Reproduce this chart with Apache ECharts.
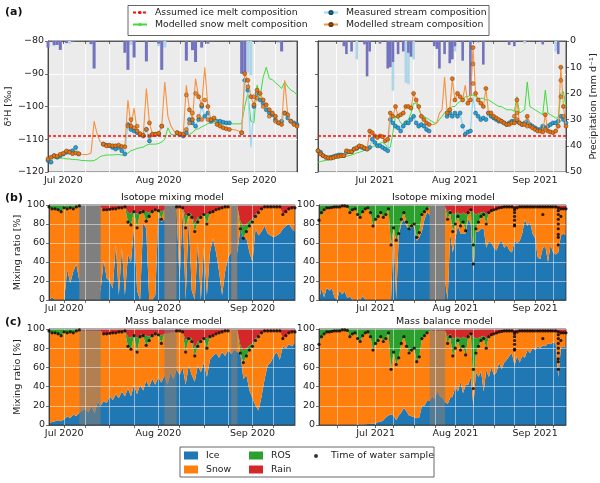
<!DOCTYPE html>
<html>
<head>
<meta charset="utf-8">
<script src="https://cdn.jsdelivr.net/npm/echarts@6/dist/echarts.min.js"></script>
<style>html,body{margin:0;padding:0;background:#fff}#chart{width:600px;height:483px}</style>
</head>
<body>
<div id="chart"></div>
<script>
// daily values, first entry is the start date
var start2020 = '2020-06-26', start2021 = '2021-06-09';
var monthTicks2020 = ['2020-07-01','2020-08-01','2020-09-01'];
var monthTicks2021 = ['2021-07-01','2021-08-01','2021-09-01'];
var monthLabels2020 = ['Jul 2020','Aug 2020','Sep 2020'];
var monthLabels2021 = ['Jul 2021','Aug 2021','Sep 2021'];
var minorTicks2020 = ['2020-07-08','2020-07-16','2020-07-24','2020-08-08','2020-08-16','2020-08-24','2020-09-08'];
var minorTicks2021 = ['2021-06-16','2021-06-24','2021-07-08','2021-07-16','2021-07-24','2021-08-08','2021-08-16','2021-08-24','2021-09-08'];
var assumedIceMelt = [-109, -109];

// panel a, 2020
var modelled2020 = [-116,-115.5,-115,-115.2,-114.6,-114.3,-113.6,-114,-114.4,-114.2,-114.4,
  -114.6,-114.7,-114.6,-114.2,-104.5,-108.5,-110.8,
  -111.5,-112,-111.8,-112,-112,-111.8,-112.2,-112.3,
  -98,-106,-100.5,-107.5,-108.3,-108.8,-94.5,-105,-108.5,-108.5,
  -108.2,-106,-92.5,-103,-106,-107.5,-108,-108.3,-108.5,-93.5,
  -101,-104,-91.5,-97,-99.5,-88,-100,-104,-103.5,-105.5,
  -106,-106.5,-106.8,-107,-107,-107.2,-107.5,-108,-90,-92,-97,
  -99.5,-95,-96,-98,-99.5,-101,-102,-103,-105,-105.5,-92,-102.5,-104.5,-105.5,-106];
var modelledNoSample2020 = [11,12,13,14,15,16,17,26,28,32,38,39,40,41,45,48,51,60,61,62,77];
var modelledExtra2020 = [[26,-106],[27,-104],[28,-106.5],[29,-106],[32,-107],[33,-109],[45,-107],[45,-96.5],[46,-105],[47,-102],[48,-96],[49,-103],
  [50,-104],[51,-98],[52,-104],[65,-94],[67,-97],[68,-97.5],[70,-100],[72,-103],[74,-104.5],[77,-102]];
var measured2020 = [-116.5,-117,-115,-115.5,-115,-114.5,-114,-113.8,-113.5,-112.5,-114.5,
  null,null,null,null,null,null,null,
  -111.5,-111.8,-112,-112.5,-113,-112.5,-113.5,-114.5,
  -105.5,-107,-107.5,-108,-108.5,-109,-107,-110.5,-108.5,-108.5,-108.3,-106,
  null,null,null,null,
  -108,-108.5,-109,-108,-104,-105,-106,-104,-100,-103,-102,-104.5,-104,-104.5,
  -104.5,-104.8,-105,-105,null,null,null,
  -108,-92,-95,-112.5,-100,-96,-98,-99,-101,-102,-102.5,-104,-105,-104.5,-102,-103.5,-104.5,-105,-105.5];
var measuredNoSample2020 = [66];
var snowMelt2020 = [-116,-116,-115.9,-115.9,-115.8,-115.8,-116,-116,-116.2,-116.2,-116.3,-116.5,-116.5,-116.6,-116.6,-116.5,-116,-115.3,
  -115,-114.8,-114.8,-114.8,-114.7,-114.7,-114.8,-114.8,
  -114.2,-113.5,-113.2,-112.8,-112.6,-112.4,-111.8,-111.5,-111.5,-111.5,-111.3,-110.8,
  -110,-106.5,-108.5,-108.7,-108.7,-108.8,-108.7,-108.7,-108.5,-108,
  -107,-106.8,-106.2,-105.8,-105.2,-105,-105,-105.2,-105.3,-105.3,-105.3,-105.3,
  -105.3,-105.3,-105.3,-105.2,-100,-96,-104.5,
  -105,-93.5,-97,-91,-88,-91.5,-91.8,-92.8,-93.5,-94.5,-92.5,-94,-95,-95.5,-96.5];
var precipDark2020 = [[0,2.5],[2,1.5],[3,1.5],[4,3.4],[6,.8],[8,.4],[14,1.2],[15,10.5],[25,4.5],[26,11],[28,6.3],[32,7.8],
  [36,1],[37,11],[45,7.5],[47,3.5],[48,8],[50,2.5],[52,1],[63,12.5],[64,12.5],[69,.4],[75,.5],[76,4],[80,.3]];
var precipLight2020 = [[2,2],[7,1],[27,1.5],[36,2],[38,2.5],[65,12],[66,13]];

// panel a, 2021
var modelled2021 = [-113.5,-114.5,-115,-115.5,-115.7,-115.8,-115.6,-115.3,-115.2,-115,
  -115,-113.5,-113.8,-113.8,-113,-112.6,-112,-112.2,-112.7,-113,
  -107.5,-108,-109,-109.5,-109,-109.2,-110.5,-110,-102,-103,
  -100,-103,-102.5,-102,-100,-100,-100.5,-96,-98,-100,
  -103,-104,-105,-105.5,-105.5,-105.5,-105,-102,-101,-91,
  -102,-101,-91.5,-98,-96,-97,-98,-93.5,-99,-98,
  -82,-96,-98,-99,-100,-94.5,-102,-102,-103,-103.5,
  -104,-104.5,-105,-105.5,-105.5,-105,-105,-98,-105,-105.5,
  -105.5,-103,-106,-106.5,-107,-107.5,-107.5,-107.8,-102.5,-107.5,
  -107.8,-108,-107.5,-106,-88,-100,-106];
var modelledNoSample2021 = [44,45,46,47,48,49,57];
var modelledExtra2021 = [[60,-87],[60,-93],[76,-103],[77,-102],[77,-104],[81,-106],[88,-107],[94,-92],[94,-97],[95,-103]];
var measured2021 = [-113.5,-114,-115,-115.5,-115.7,-115.5,-115.3,-115,-114.8,-114.8,
  -115,-114,-113.8,-113.8,-113,-112.8,-112.2,-112.5,-112.8,-113,
  -112.5,-110,-111,-112,-112,-112.5,-113,-113.5,-104,-105,
  -106,-106.5,-107.5,-106,-105,-105,-104,-103,-105,-106,
  -105.5,-106,-107,-107.5,null,null,null,null,null,null,
  -103,-102,-103,-102,-103,-102,-106,-108.5,-107.8,-107.5,
  -97,-102,-103,-104,-103.5,-104,-102,-103,-103.5,-104,
  -104.5,-104.5,-105,-105.5,-105,-104.5,-104.5,-104.5,-105,-105.5,
  -105,-104.5,-105.5,-106,-106.5,-107,-107,-106,-106.5,-106,
  -105.5,-105,-105,-104.5,-103,-104,-105];
var measuredNoSample2021 = [60];
var snowMelt2021 = [-117,-116.8,-116.6,-116.5,-116.3,-116.2,-116,-115.8,-115.7,-115.5,
  -115.4,-115.2,-115,-114.8,-114.5,-114.2,-114,-113.7,-113.4,-113,
  -112.7,-112.3,-112,-111.5,-111.2,-111,-111.5,-112.5,-112.5,-108,
  -103,-103.5,-105,-105.5,-104.5,-104,-102,-99,-99,-101,
  -102.5,-103,-103.5,-104,-104.5,-105,-105,-104,-103,-102,
  -101,-100.5,-100,-100,-99,-98.5,-98,-97,-97,-96.5,
  -96.5,-97,-97.5,-97.5,-97.5,-98,-98,-98.5,-99,-99.5,
  -100,-100,-100.5,-101,-101,-101,-101.5,-97,-102,-101.5,
  -101,-92.5,-100,-100.5,-101,-101.5,-102,-102.5,-95,-102,
  -102.5,-103,-103.5,-103.5,-96,-95.5,-100];
var precipDark2021 = [[10,2],[11,5],[13,4],[18,1.3],[19,13.5],[20,4],[24,1],[27,10.5],[28,10],[29,8],[31,5],[33,4],[35,4.5],[36,6],
  [45,2],[46,3],[47,10.5],[49,5],[51,8.5],[52,7],[53,2],[56,7.5],[59,21],[62,.5],[64,9],[74,1.5],[76,2],[87,1.3],[93,5]];
var precipLight2021 = [[15,7],[29,19],[34,16],[35,16.5],[37,7],[53,4],[80,1],[92,4]];

// panels b and c, 2020
var samples2020 = [98,96,96,95,93,97,96,97,96,98,
  99,null,null,null,null,null,null,null,95,95,
  95.5,96,96,97,97,98,82,79,93,76,
  92,93,83,88,93,95,94,85,null,null,
  null,null,98,98,97,76,90,87,72,82,
  87,90,80,92,93,95,96,97,98,98,
  null,null,null,75,65,72,78,82,88,92,
  96,98,98,98,98,98,98,90,93,96,97,97];
var ros2020 = [2,4,4,5,7,3,4,3,4,2,
  1,0,0,0,0,0,0,0,0,0,
  0,0,0,0,0,0,10,12,2,14,
  2,1,10,4,1,1,1,8,0,0,
  0,0,0,0,0,12,2,3,8,5,
  1,1,10,1,0,0,0,0,0,0,
  0,0,0,8,12,8,5,3,2,1,
  0,0,0,0,0,0,0,0,0,0,0,0];
var rain2020 = [0,0,0,0,0,0,0,0,0,0,
  0,2,2,2,2,2,2,2,5,5,
  4.5,4,4,3,3,2,8,9,5,10,
  6,6,7,8,6,4,5,7,5,5,
  4,4,2,2,3,12,8,10,20,13,
  12,9,10,7,7,5,4,3,2,2,
  1,1,1,17,23,20,17,15,10,7,
  4,2,2,2,2,2,2,10,7,4,3,3];
var iceIsotope2020 = [0,3,0,0,0,0,32,18,30,38,
  20,18,15,10,10,10,10,10,42,23,
  20,12,58,5,55,5,48,40,78,10,
  0,82,75,0,0,5,90,82,85,85,
  50,80,95,20,95,0,88,10,0,60,
  0,55,5,50,65,50,30,5,30,45,
  50,50,50,75,65,65,50,40,75,68,
  72,78,70,68,66,68,70,75,78,80,75,72];
var snowIsotope2020 = [98,93,96,95,93,97,64,79,66,60,
  79,80,83,88,88,88,88,88,53,72,
  75.5,84,38,92,42,93,34,39,15,66,
  92,11,8,88,93,90,4,3,10,10,
  46,16,3,78,2,76,2,77,72,22,
  87,35,75,42,28,45,66,92,68,53,
  49,49,49,0,0,7,28,42,13,24,
  24,20,28,30,32,30,28,15,15,16,22,25];
var iceBalance2020 = [2,3,4,5,4,6,9,7,11,9,
  13,15,17,13,20,12,24,20,25,23,
  30,26,32,28,35,30,38,30,42,32,
  42,36,46,40,48,42,50,44,52,42,
  54,48,58,52,60,42,62,52,45,62,
  55,65,50,68,72,75,70,76,72,78,
  74,78,76,75,48,52,36,28,20,15,
  30,48,62,65,72,76,68,82,80,84,82,86];
var snowBalance2020 = [96,93,92,90,89,91,87,90,85,89,
  86,83,81,85,78,86,74,78,70,72,
  65.5,70,64,69,62,68,44,49,51,44,
  50,57,37,48,45,53,44,41,43,53,
  42,48,40,46,37,34,28,35,27,20,
  32,25,30,24,21,20,26,21,26,20,
  25,21,23,0,17,20,42,54,68,77,
  66,50,36,33,26,22,30,8,13,12,15,11];

// panels b and c, 2021
var samples2021 = [84,92,95,97,97,97.5,98,98,98,99,
  99,98.5,92,95,96,90,87,93,96,97,
  92,78,85,88,92,87,90,96,58,76,
  63,70,85,92,82,75,78,80,66,71,
  90,93,96,null,null,null,null,null,null,null,
  85,92,72,80,88,78,82,73,92,95,
  38,75,82,88,90,80,92,94,95,96,
  97,97.5,98,98,98,98,97,97,98,98,
  98,98,98,98,98,98,98,98,98,98,
  98,98,98,97,96,96,96];
var extraSamples2021 = [[60,58],[76,78],[76,79],[76,84],[76,88],[76,92],[76,95],[87,90],[93,58],[93,66],[93,69],[93,75],[93,80],[93,85],[93,90],[93,94],[94,88]];
var ros2021 = [16,8,5,3,3,2.5,2,2,2,1,
  1,1.5,8,5,4,10,13,7,4,3,
  8,22,15,12,8,13,10,4,42,24,
  37,30,15,8,18,25,22,20,34,29,
  10,7,4,2,0,0,0,0,0,0,
  7,3,18,11,4,12,10,17,1,0,
  54,15,9,4,3,10,1,0,0,0,
  0,0,0,0,0,0,0,0,0,0,
  0,0,0,0,0,0,0,0,0,0,
  0,0,0,0,0,0,0];
var rain2021 = [0,0,0,0,0,0,0,0,0,0,
  0,0,0,0,0,0,0,0,0,0,
  0,0,0,0,0,0,0,0,0,0,
  0,0,0,0,0,0,0,0,0,0,
  0,0,0,0,2,2,2,2,2,2,
  8,5,10,9,8,10,8,10,7,5,
  8,10,9,8,7,10,7,6,5,4,
  3,2.5,2,2,2,2,3,3,2,2,
  2,2,2,2,2,2,2,2,2,2,
  2,2,2,3,4,4,4];
var iceIsotope2021 = [0,12,3,13,10,12,3,0,10,6,
  9,2,4,0,1,0,0,4,0,0,
  0,0,0,0,0,0,0,0,0,72,
  0,68,80,85,78,74,76,78,62,66,
  72,85,92,90,80,70,60,50,40,20,
  0,70,50,65,78,70,70,70,85,80,
  30,72,72,75,75,55,62,60,55,52,
  60,62,55,58,52,50,62,60,62,70,
  85,78,82,70,65,45,43,55,56,40,
  58,50,48,50,68,70,68];
var snowIsotope2021 = [84,80,92,84,87,85.5,95,98,88,93,
  90,96.5,88,95,95,90,87,89,96,97,
  92,78,85,88,92,87,90,96,58,4,
  63,2,5,7,4,1,2,2,4,5,
  18,8,4,8,18,28,38,48,58,78,
  85,22,22,15,10,8,12,3,7,15,
  8,3,10,13,15,25,30,34,40,44,
  37,35.5,43,40,46,48,35,37,36,28,
  13,20,16,28,33,53,55,43,42,58,
  40,48,50,47,28,26,28];
var iceBalance2021 = [0,0,0,0,0,0,0,0,0,0,
  0,0,0,0,0,0.3,0.5,0.5,0.8,1,
  1,1.5,1.5,3,3.5,5,8,10,11,10,
  5,10,13,18,14,10,9,8,7,8,
  20,20,25,25,30,27,35,30,28,24,
  22,28,30,40,35,45,33,42,42,50,
  20,55,50,56,35,57,50,60,52,55,
  65,58,65,68,72,75,62,72,65,72,
  70,78,75,80,78,82,80,83,82,85,
  84,86,85,50,80,82,80];
var snowBalance2021 = [84,92,95,97,97,97.5,98,98,98,99,
  99,98.5,92,95,96,89.7,86.5,92.5,95.2,96,
  91,76.5,83.5,85,88.5,82,82,86,47,66,
  58,60,72,74,68,65,69,72,59,63,
  70,73,71,73,68,71,63,68,70,74,
  63,64,42,40,53,33,49,31,50,45,
  18,20,32,32,55,23,42,34,43,41,
  32,39.5,33,30,26,23,35,25,33,26,
  28,20,23,18,20,16,18,15,16,13,
  14,12,13,47,16,14,16];

// periods without a model result
var gaps2020 = [['2020-07-06','2020-07-13'],['2020-08-03','2020-08-07'],['2020-08-25','2020-08-27']];
var gaps2021 = [['2021-07-22','2021-07-28']];

var FONT = '"DejaVu Sans"';
var TXT = '#222';

function dayList(start, n) {
  var list = [], t0 = new Date(start + 'T00:00Z').getTime();
  for (var i = 0; i < n; i++) list.push(new Date(t0 + i * 864e5).toISOString().slice(0, 10));
  return list;
}
var days2020 = dayList(start2020, modelled2020.length);
var days2021 = dayList(start2021, modelled2021.length);

function daily(days, values) {
  return values.map(function (v, i) { return [days[i], v]; });
}
function sparse(days, pairs) {
  return pairs.map(function (p) { return [days[p[0]], p[1]]; });
}
function withSkips(days, values, skip) {
  return daily(days, values).map(function (d, i) {
    return skip.indexOf(i) >= 0 ? { value: d, symbol: 'none' } : { value: d };
  });
}

var panels = [
  { top: 41, h: 131, left: 48, w: 249, days: days2020, months: monthTicks2020, labels: monthLabels2020, minor: minorTicks2020 },
  { top: 41, h: 131, left: 318, w: 249, days: days2021, months: monthTicks2021, labels: monthLabels2021, minor: minorTicks2021 },
  { top: 205, h: 95, left: 49, w: 246, days: days2020, months: monthTicks2020, labels: monthLabels2020, minor: minorTicks2020 },
  { top: 205, h: 95, left: 319, w: 247, days: days2021, months: monthTicks2021, labels: monthLabels2021, minor: minorTicks2021 },
  { top: 329, h: 96, left: 49, w: 246, days: days2020, months: monthTicks2020, labels: monthLabels2020, minor: minorTicks2020 },
  { top: 329, h: 96, left: 319, w: 247, days: days2021, months: monthTicks2021, labels: monthLabels2021, minor: minorTicks2021 }
];

var grids = [], xAxes = [], yAxes = [];
panels.forEach(function (p, i) {
  var isA = i < 2;
  var gridColor = isA ? '#ffffff' : 'rgba(255,255,255,0.55)';
  var isTick = function (idx, v) { return p.months.indexOf(v) >= 0 || p.minor.indexOf(v) >= 0; };
  grids.push({ left: p.left, top: p.top, width: p.w, height: p.h, show: true,
    backgroundColor: isA ? '#ebebeb' : 'transparent', borderColor: '#333', borderWidth: 0.8, z: isA ? 0 : 9 });
  xAxes.push({ type: 'category', gridIndex: i, data: p.days, boundaryGap: false, z: isA ? 0 : 10,
    axisLine: { lineStyle: { color: '#333', width: 0.8 } },
    axisTick: { length: 3, interval: isTick, lineStyle: { color: '#333', width: 0.7 } },
    splitLine: { show: true, interval: isTick, lineStyle: { color: gridColor, width: 0.9 } },
    axisLabel: { color: TXT, fontFamily: FONT, fontSize: 9.5, margin: 4,
      interval: function (idx, v) { return p.months.indexOf(v) >= 0; },
      formatter: function (v) { return p.labels[p.months.indexOf(v)]; } }
  });
  var left = i % 2 === 0;
  yAxes.push({ type: 'value', gridIndex: i, z: isA ? 0 : 10,
    min: isA ? -120 : 0, max: isA ? -80 : 100, interval: isA ? 10 : 20,
    name: !left ? '' : (isA ? 'δ²H [‰]' : 'Mixing ratio [%]'),
    nameLocation: 'middle', nameGap: isA ? 30 : 26,
    nameTextStyle: { color: TXT, fontFamily: FONT, fontSize: 9.5 },
    axisLine: { show: true, lineStyle: { color: '#333', width: 0.8 } },
    axisTick: { show: true, length: 3, lineStyle: { color: '#333', width: 0.7 } },
    splitLine: { show: true, lineStyle: { color: gridColor, width: 0.9 } },
    axisLabel: { show: left || !isA, color: TXT, fontFamily: FONT, fontSize: 9.5, margin: 4,
      formatter: function (v) { return String(v).replace('-', '\u2212'); } }
  });
});
// precipitation axes for panel a
[0, 1].forEach(function (g) {
  yAxes.push({ type: 'value', gridIndex: g, position: 'right', inverse: true, min: 0, max: 50, interval: 10,
    name: g === 1 ? 'Precipitation [mm d\u207B\u00B9]' : '', nameLocation: 'middle', nameGap: 23, nameRotate: 90,
    nameTextStyle: { color: TXT, fontFamily: FONT, fontSize: 9.5 },
    splitLine: { show: false },
    axisLine: { show: true, lineStyle: { color: '#333', width: 0.8 } },
    axisTick: { show: g === 1, length: 3, lineStyle: { color: '#333', width: 0.7 } },
    axisLabel: { show: g === 1, color: TXT, fontFamily: FONT, fontSize: 9.5, margin: 4 }
  });
});

var series = [];
var measuredMark = { color: '#2a9fd4', borderColor: '#14506e', borderWidth: 0.5 };
var modelledMark = { color: '#e8730f', borderColor: '#6b3a10', borderWidth: 0.5 };

function addIsotopePanel(g, days, snow, measured, measuredSkip, modelled, modelledSkip, modelledExtra, dark, light, barW) {
  series.push({ type: 'bar', xAxisIndex: g, yAxisIndex: 6 + g, data: sparse(days, light), barWidth: barW, barGap: '-100%',
    itemStyle: { color: '#aed6e8' }, silent: true, z: 1 });
  series.push({ type: 'bar', xAxisIndex: g, yAxisIndex: 6 + g, data: sparse(days, dark), barWidth: barW, barGap: '-100%',
    itemStyle: { color: '#7272bd' }, silent: true, z: 1 });
  series.push({ name: 'Assumed ice melt composition', type: 'line', xAxisIndex: g, yAxisIndex: g, symbol: 'none', z: 6,
    data: assumedIceMelt.map(function (v, i) { return [i === 0 ? days[0] : days[days.length - 1], v]; }),
    lineStyle: { color: '#f01010', width: 1.4, type: [3, 2] }, itemStyle: { color: '#f01010' } });
  series.push({ name: 'Modelled snow melt composition', type: 'line', xAxisIndex: g, yAxisIndex: g, symbol: 'none', z: 3,
    data: daily(days, snow), lineStyle: { color: '#3ddc3d', width: 1 }, itemStyle: { color: '#3ddc3d' } });
  series.push({ name: 'Measured stream composition', type: 'line', xAxisIndex: g, yAxisIndex: g, z: 4,
    symbol: 'circle', symbolSize: 4, showAllSymbol: true, data: withSkips(days, measured, measuredSkip),
    lineStyle: { color: '#9fd8ef', width: 1.3 }, itemStyle: measuredMark });
  series.push({ name: 'Modelled stream composition', type: 'line', xAxisIndex: g, yAxisIndex: g, z: 5,
    symbol: 'circle', symbolSize: 4, showAllSymbol: true, data: withSkips(days, modelled, modelledSkip),
    lineStyle: { color: '#f79240', width: 1.1 }, itemStyle: modelledMark });
  series.push({ type: 'scatter', xAxisIndex: g, yAxisIndex: g, z: 5, symbolSize: 4, silent: true,
    data: sparse(days, modelledExtra), itemStyle: modelledMark });
}

function addMixPanel(g, days, ice, snow, ros, rain, samples, extras, gaps, gapColor) {
  var stack = 'mix' + g;
  [['Ice', ice, '#1f77b4'], ['Snow', snow, '#ff7f0e'], ['ROS', ros, '#2ca02c'], ['Rain', rain, '#d62728']].forEach(function (s) {
    series.push({ name: s[0], type: 'line', stack: stack, xAxisIndex: g, yAxisIndex: g, symbol: 'none', z: 2,
      data: daily(days, s[1]), lineStyle: { width: 0 }, areaStyle: { color: s[2], opacity: 1 }, itemStyle: { color: s[2] } });
  });
  series.push({ type: 'line', xAxisIndex: g, yAxisIndex: g, data: [], silent: true, z: 5,
    markArea: { silent: true, z: 5, itemStyle: { color: gapColor },
      data: gaps.map(function (r) { return [{ xAxis: r[0] }, { xAxis: r[1] }]; }) } });
  series.push({ name: 'Time of water sample', type: 'scatter', xAxisIndex: g, yAxisIndex: g, z: 12, symbolSize: 3.2,
    data: daily(days, samples).filter(function (d) { return d[1] !== null; }).concat(sparse(days, extras)),
    itemStyle: { color: '#000' } });
}

addIsotopePanel(0, days2020, snowMelt2020, measured2020, measuredNoSample2020, modelled2020, modelledNoSample2020, modelledExtra2020, precipDark2020, precipLight2020, 3);
addIsotopePanel(1, days2021, snowMelt2021, measured2021, measuredNoSample2021, modelled2021, modelledNoSample2021, modelledExtra2021, precipDark2021, precipLight2021, 2.6);
addMixPanel(2, days2020, iceIsotope2020, snowIsotope2020, ros2020, rain2020, samples2020, [], gaps2020, '#7f7f7f');
addMixPanel(3, days2021, iceIsotope2021, snowIsotope2021, ros2021, rain2021, samples2021, extraSamples2021, gaps2021, '#7f7f7f');
addMixPanel(4, days2020, iceBalance2020, snowBalance2020, ros2020, rain2020, samples2020, [], gaps2020, 'rgba(127,127,127,0.6)');
addMixPanel(5, days2021, iceBalance2021, snowBalance2021, ros2021, rain2021, samples2021, extraSamples2021, gaps2021, 'rgba(127,127,127,0.6)');

function legendOf(names, left, top, extra) {
  var l = { data: names, left: left, top: top, orient: 'vertical', padding: 0, itemGap: 3, itemWidth: 14, itemHeight: 4,
    selectedMode: false, textStyle: { color: TXT, fontFamily: FONT, fontSize: 9.3, padding: [0, 0, 0, 3] } };
  return Object.assign(l, extra || {});
}

function label(text, left, top, bold) {
  return { text: text, left: left, top: top, padding: 0,
    textStyle: { color: '#111', fontFamily: FONT, fontSize: bold ? 11 : 9.5, fontWeight: bold ? 'bold' : 'normal' } };
}

var myChart = echarts.init(document.getElementById('chart'));
myChart.setOption({
  animation: false,
  backgroundColor: '#fff',
  title: [
    label('(a)', 5, 7, true), label('(b)', 5, 193, true), label('(c)', 5, 317, true),
    label('Isotope mixing model', 121, 193), label('Isotope mixing model', 392, 193),
    label('Mass balance model', 125, 317), label('Mass balance model', 396, 317)
  ],
  graphic: [
    { type: 'rect', shape: { x: 128, y: 5.5, width: 361, height: 30 }, style: { fill: '#fff', stroke: '#555', lineWidth: 0.9 } },
    { type: 'rect', shape: { x: 180, y: 447, width: 254, height: 30 }, style: { fill: '#fff', stroke: '#555', lineWidth: 0.9 } }
  ],
  legend: [
    legendOf(['Assumed ice melt composition', 'Modelled snow melt composition'], 132, 8),
    legendOf(['Measured stream composition', 'Modelled stream composition'], 323, 8),
    legendOf(['Ice', 'Snow'], 184, 451, { icon: 'rect', itemHeight: 8, itemGap: 5 }),
    legendOf(['ROS', 'Rain'], 249, 451, { icon: 'rect', itemHeight: 8, itemGap: 5 }),
    legendOf(['Time of water sample'], 314, 451, { itemWidth: 4, itemHeight: 4, textStyle: { color: TXT, fontFamily: FONT, fontSize: 9.5, padding: [0, 0, 0, 8] } })
  ],
  grid: grids,
  xAxis: xAxes,
  yAxis: yAxes,
  series: series
});
</script>
</body>
</html>
